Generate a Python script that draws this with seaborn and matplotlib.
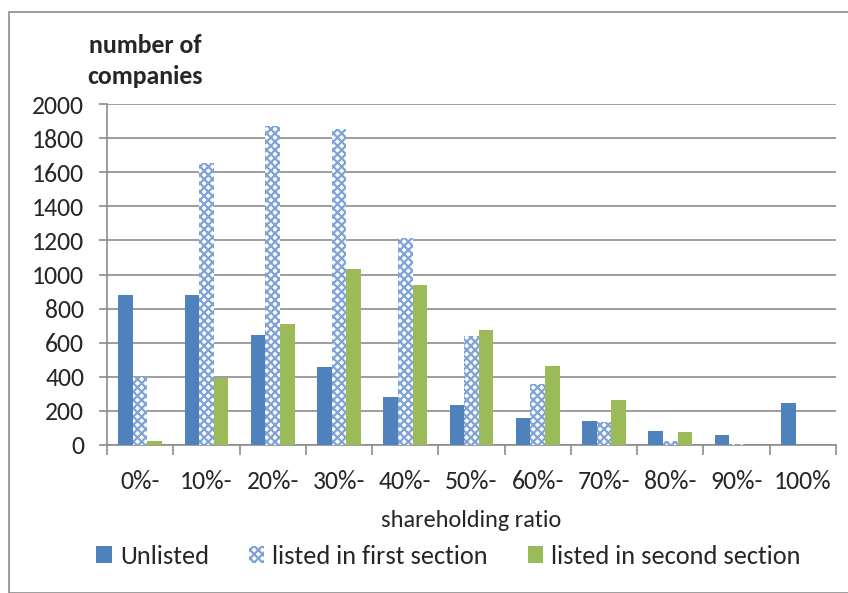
import seaborn as sns
import matplotlib.pyplot as plt
import matplotlib.patches as mpatches
import pandas as pd

# 持股比例区间
ratio_bins = ['0%-', '10%-', '20%-', '30%-', '40%-', '50%-', '60%-', '70%-', '80%-', '90%-', '100%']
unlisted = [882, 882, 643, 455, 283, 235, 156, 142, 82, 59, 246]
first_section = [401, 1656, 1869, 1853, 1212, 637, 360, 135, 24, 4, 0]
second_section = [25, 393, 710, 1032, 940, 676, 465, 262, 76, 2, 0]
series_names = ['Unlisted', 'listed in first section', 'listed in second section']
y_ticks = [0, 200, 400, 600, 800, 1000, 1200, 1400, 1600, 1800, 2000]

df = pd.DataFrame({
    'ratio': ratio_bins * 3,
    'series': [series_names[0]] * 11 + [series_names[1]] * 11 + [series_names[2]] * 11,
    'count': unlisted + first_section + second_section,
})

sns.set_style('white')
plt.rcParams['font.family'] = ['Carlito', 'Open Sans', 'DejaVu Sans']
plt.rcParams['hatch.linewidth'] = 1.6

fig = plt.figure(figsize=(8.48, 5.93), dpi=100)
ax = fig.add_axes([107 / 848, 1 - 445 / 593, (836 - 107) / 848, (445 - 104) / 593])

palette = {series_names[0]: '#4F81BD', series_names[1]: '#FFFFFF', series_names[2]: '#9BBB59'}
sns.barplot(data=df, x='ratio', y='count', hue='series', palette=palette,
            width=0.66, saturation=1, legend=False, ax=ax, zorder=3)

# 一部上市: 网格填充
n = len(ratio_bins)
for i, patch in enumerate(ax.patches):
    patch.set_linewidth(0)
    if n <= i < 2 * n:
        patch.set_facecolor('#FFFFFF')
        patch.set_edgecolor('#7FA3D6')
        patch.set_hatch('xxxx')

ax.set_xlim(-0.5, n - 0.5)
ax.set_ylim(0, 2000)
ax.set_yticks(y_ticks)
ax.yaxis.grid(True, color='#8C8C8C', linewidth=1.2, zorder=0)
ax.set_axisbelow(True)
for s in ['top', 'right']:
    ax.spines[s].set_visible(False)
for s in ['left', 'bottom']:
    ax.spines[s].set_color('#8C8C8C')
    ax.spines[s].set_linewidth(1.2)

ax.set_xticks([i - 0.5 for i in range(n + 1)], minor=True)
ax.tick_params(axis='x', which='minor', length=7, width=1.2, color='#8C8C8C', direction='out', bottom=True)
ax.tick_params(axis='x', which='major', length=0, labelsize=18.5, pad=18)
ax.tick_params(axis='y', which='major', length=5.5, width=1.2, color='#8C8C8C', direction='out', left=True,
               labelsize=18.5, pad=11)
ax.set_xlabel('shareholding ratio', fontsize=17.5, labelpad=12)
ax.set_ylabel('')

fig.text(145 / 848, 1 - 61 / 593, 'number of\ncompanies', ha='center', va='center',
         fontsize=18.5, fontweight='bold', linespacing=1.45)

handles = [
    mpatches.Patch(facecolor='#4F81BD', edgecolor='none'),
    mpatches.Patch(facecolor='#FFFFFF', edgecolor='#7FA3D6', hatch='xxxx', linewidth=0),
    mpatches.Patch(facecolor='#9BBB59', edgecolor='none'),
]
fig.legend(handles, series_names, loc='center', bbox_to_anchor=(0.529, 1 - 556 / 593), ncol=3,
           frameon=False, fontsize=19, handlelength=0.6, handleheight=0.6, handletextpad=0.3,
           columnspacing=1.5)

# 外框
fig.patches.append(mpatches.Rectangle((9 / 848, 0), 1, 1 - 12 / 593, transform=fig.transFigure,
                                      fill=False, edgecolor='#8C8C8C', linewidth=1.2))

fig.savefig('out.png', dpi=100)
